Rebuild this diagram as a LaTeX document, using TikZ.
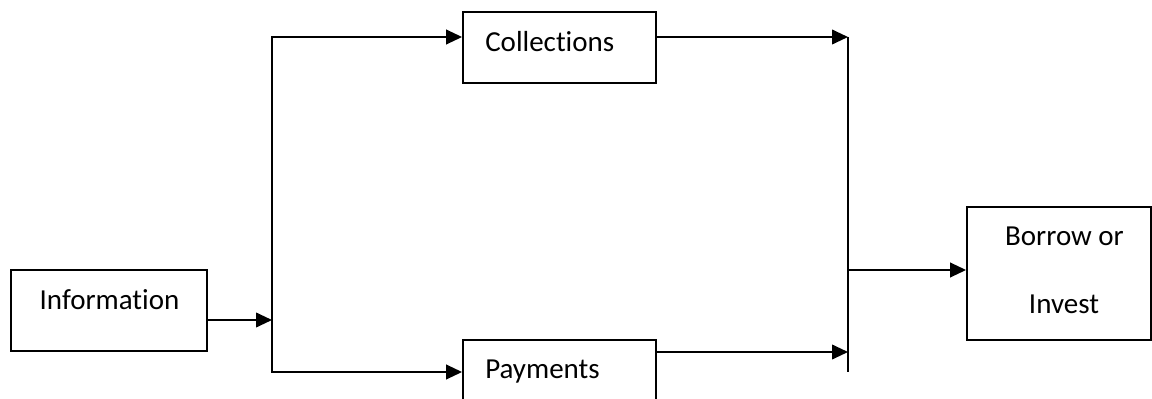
\documentclass[tikz,border=0pt]{standalone}
\usepackage{fontspec}
\setmainfont{Carlito}[Ligatures=NoCommon]
\usetikzlibrary{arrows.meta}

\begin{document}
\begin{tikzpicture}[x=0.75pt,y=-0.75pt]
\tikzset{box style/.style={shape=rectangle,draw=black,line width=1.4pt,inner sep=0pt},
         text style/.style={font=\fontsize{21.75}{26}\selectfont,inner sep=0pt,anchor=base},
         flow/.style={line width=1.4pt,-{Triangle[length=12pt,width=11pt]}}}

\clip (0,0) rectangle (1152,399);

\node[box style, minimum width=147pt, minimum height=60.75pt] at (109,310.5)   (info)   {};
\node[box style, minimum width=144.75pt, minimum height=53.25pt] at (559.5,47.5)   (coll)   {};
\node[box style, minimum width=144.75pt, minimum height=53.25pt] at (559.5,375.5)  (pay)    {};
\node[box style, minimum width=138pt, minimum height=99.75pt] at (1059,273.5)  (borrow) {};

\node[text style] at (109.5,309)     (infotext)   {Information};
\node[text style, anchor=base west] at (485,52)   (colltext)   {Collections};
\node[text style, anchor=base west] at (485,378)  (paytext)    {Payments};
\node[text style] at (1064.5,245)    (borrowtext) {Borrow or};
\node[text style] at (1064,313)      (investtext) {Invest};

\coordinate (split) at (272,320);
\coordinate (up)    at (272,37);
\coordinate (down)  at (272,372);
\coordinate (join)  at (848,270);
\coordinate (payrow) at (848,352);

\draw[flow] (info.east |- split) -- (split);
\draw[flow] (split) -- (up) -- (coll.west |- up);
\draw[flow] (split) -- (down) -- (pay.west |- down);
\draw[flow] (coll.east |- up) -- (join |- up);
\draw[flow] (pay.east |- payrow) -- (payrow);
\draw[line width=1.4pt] (join |- up) -- (join |- down);
\draw[flow] (join) -- (borrow.west |- join);
\end{tikzpicture}
\end{document}
